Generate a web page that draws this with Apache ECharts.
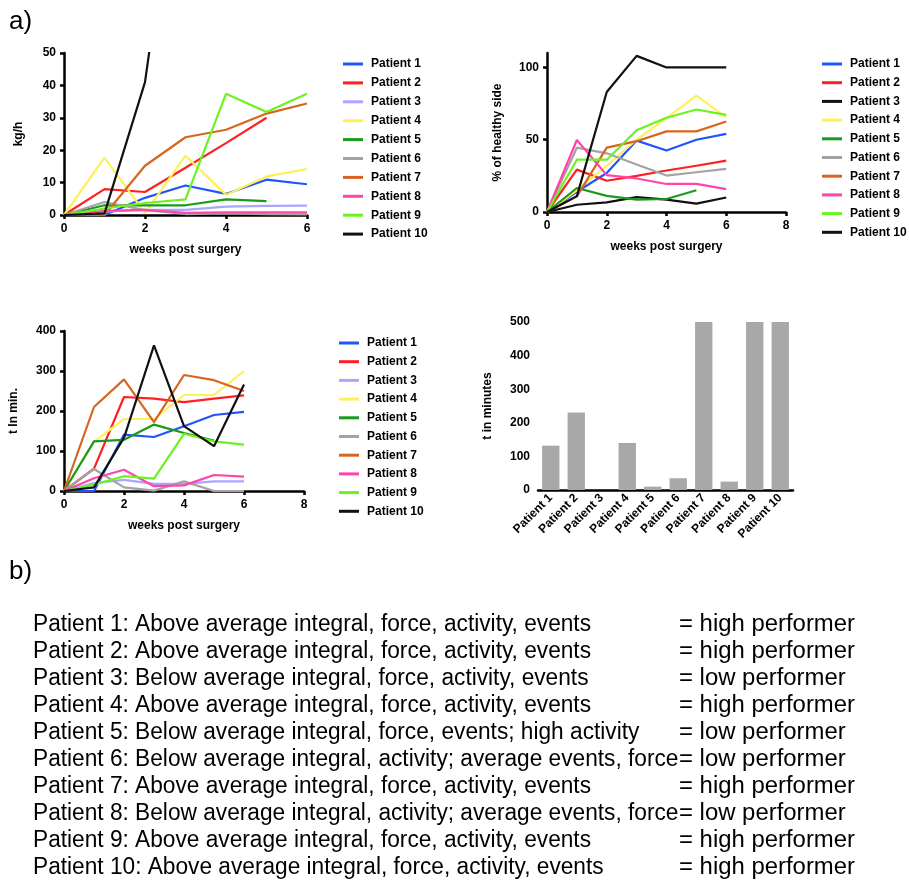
<!DOCTYPE html>
<html>
<head>
<meta charset="utf-8">
<title>Patients</title>
<script src="https://cdn.jsdelivr.net/npm/echarts@6/dist/echarts.min.js"></script>
<style>
  html, body { margin: 0; padding: 0; background: #fff; }
  #main { width: 909px; height: 885px; }
</style>
</head>
<body>
<div id="main"></div>
<script>
var weeks = [0, 1, 2, 3, 4, 5, 6];
var patients = ['Patient 1', 'Patient 2', 'Patient 3', 'Patient 4', 'Patient 5',
	'Patient 6', 'Patient 7', 'Patient 8', 'Patient 9', 'Patient 10'];
var colors = ['#1f55ff', '#ff1f1f', '#aaa6ff', '#fff05a', '#1a9a1a',
	'#a3a3a3', '#d6661f', '#ff45aa', '#6cf21f', '#111111'];
// in the "% of healthy side" plot patient 3 is drawn in black
var colorsHealthy = ['#1f55ff', '#ff1f1f', '#111111', '#fff05a', '#1a9a1a',
	'#a3a3a3', '#d6661f', '#ff45aa', '#6cf21f', '#111111'];

// kg/h per week
var kgh = [
	[0, 0, 5.3, 9.1, 6.5, 10.9, 9.5],
	[0, 8, 7.1, 14.6, 22.2, 30],
	[0, 1, 1.6, 1.6, 2.6, 2.8, 2.9],
	[0, 17.7, 0.6, 18.3, 6.2, 11.9, 14.2],
	[0, 3, 3, 3, 4.8, 4.3],
	[0, 4, 1.5, 0.3, 0.5, 0.3, 0.2],
	[0, 0, 15.2, 24, 26.3, 31.3, 34.4],
	[0, 1.3, 1.6, 0.7, 0.8, 0.8, 0.8],
	[0, 2, 3.7, 4.8, 37.4, 31.8, 37.4],
	[0, 0.5, 41, 130]
];
// % of healthy side per week
var healthy = [
	[0, 14, 27, 49.4, 42.5, 50, 54],
	[0, 29.3, 21.6, 25, 28.7, 32, 35.6],
	[0, 5, 6.7, 10.3, 8.5, 5.8, 10],
	[0, 15, 32, 50, 65, 80.5, 65.5],
	[0, 16.6, 11.2, 8.5, 9, 15],
	[0, 44.5, 40.6, 32.8, 25.2, 27.5, 29.8],
	[0, 10.8, 44.5, 49, 55.8, 55.8, 62.6],
	[0, 49.8, 25.5, 23.2, 19.4, 19.4, 15.8],
	[0, 36.2, 36.2, 56.5, 65.2, 70.9, 67.2],
	[0, 11, 83, 108, 100, 100, 100]
];
// t in min. per week
var tmin = [
	[0, 0, 141, 135, 162, 190, 198],
	[0, 56, 235, 231, 222, 231, 239],
	[0, 20, 28, 18, 18, 24, 24],
	[0, 123, 180, 180, 240, 240, 300],
	[0, 124, 128, 166, 145, 126],
	[0, 55, 9, 1, 24, 0, 0],
	[0, 210, 279, 172, 290, 277, 250],
	[0, 32, 53, 12, 14, 40, 36],
	[0, 16, 37, 31, 143, 124, 116],
	[0, 9, 133, 364, 162, 112, 266]
];
// t in minutes (bar chart)
var tminutes = [132, 231, 0, 140, 10, 35, 500, 25, 500, 500];

var descr = [
	'Patient 1: Above average integral, force, activity, events',
	'Patient 2: Above average integral, force, activity, events',
	'Patient 3: Below average integral, force, activity, events',
	'Patient 4: Above average integral, force, activity, events',
	'Patient 5: Below average integral, force, events; high activity',
	'Patient 6: Below average integral, activity; average events, force',
	'Patient 7: Above average integral, force, activity, events',
	'Patient 8: Below average integral, activity; average events, force',
	'Patient 9: Above average integral, force, activity, events',
	'Patient 10: Above average integral, force, activity, events'
];
var rating = ['= high performer', '= high performer', '= low performer', '= high performer',
	'= low performer', '= low performer', '= high performer', '= low performer',
	'= high performer', '= high performer'];

var FONT = '"Liberation Sans", Arial, sans-serif';
var labelStyle = { color: '#000', fontWeight: 'bold', fontSize: 12, fontFamily: FONT };
var axisLine = { lineStyle: { color: '#000', width: 2.5 } };
var axisTick = { length: 4, lineStyle: { color: '#000', width: 2.5 } };

function valueAxis(gi, max, interval, name, gap, extra) {
	var ax = {
		type: 'value', gridIndex: gi, min: 0, max: max, interval: interval,
		name: name, nameLocation: 'middle', nameGap: gap,
		nameTextStyle: { color: '#000', fontWeight: 'bold', fontSize: 12, fontFamily: FONT },
		axisLine: axisLine, axisTick: axisTick,
		axisLabel: labelStyle, splitLine: { show: false }
	};
	for (var k in extra) ax[k] = extra[k];
	return ax;
}

function lineSeries(values, cols, gi) {
	return values.map(function(v, i) {
		return {
			name: patients[i], type: 'line', xAxisIndex: gi, yAxisIndex: gi,
			symbol: 'none', clip: true,
			lineStyle: { width: 2.2, color: cols[i] },
			itemStyle: { color: cols[i] },
			data: v.map(function(y, k) { return [weeks[k], y]; })
		};
	});
}

function makeLegend(left, top, gap, cols) {
	return {
		orient: 'vertical', left: left, top: top, itemGap: gap,
		icon: 'rect', itemWidth: 20, itemHeight: 3, padding: 0,
		textStyle: { color: '#000', fontWeight: 'bold', fontSize: 12, fontFamily: FONT, lineHeight: 14, padding: [0, 0, 0, 3] },
		data: patients.map(function(p, i) {
			return { name: p, itemStyle: { color: cols[i] }, lineStyle: { color: cols[i], width: 3 } };
		})
	};
}

// the text of part b) is set in a narrow font: squeeze it horizontally
var ctx = document.createElement('canvas').getContext('2d');
ctx.font = '23px ' + FONT;
var sxLeft = 558 / ctx.measureText(descr[0]).width;
var sxRight = 176 / ctx.measureText(rating[0]).width;

var texts = [
	{ type: 'text', x: 9, y: 22, style: { text: 'a)', font: '26px ' + FONT, fill: '#000', textVerticalAlign: 'middle' } },
	{ type: 'text', x: 9, y: 572, style: { text: 'b)', font: '26px ' + FONT, fill: '#000', textVerticalAlign: 'middle' } }
];
descr.forEach(function(d, i) {
	texts.push({ type: 'text', x: 33, y: 625 + i * 27, scaleX: sxLeft,
		style: { text: d, font: '23px ' + FONT, fill: '#000', textVerticalAlign: 'middle' } });
	texts.push({ type: 'text', x: 679, y: 625 + i * 27, scaleX: sxRight,
		style: { text: rating[i], font: '23px ' + FONT, fill: '#000', textVerticalAlign: 'middle' } });
});

var myChart = echarts.init(document.getElementById('main'));
myChart.setOption({
	backgroundColor: '#fff',
	animation: false,
	grid: [
		{ left: 64, top: 53, width: 243, height: 162 },
		{ left: 547, top: 53, width: 239, height: 159 },
		{ left: 64, top: 331, width: 240, height: 160 },
		{ left: 538, top: 322, width: 255, height: 168 }
	],
	xAxis: [
		valueAxis(0, 6, 2, 'weeks post surgery', 29),
		valueAxis(1, 8, 2, 'weeks post surgery', 29),
		valueAxis(2, 8, 2, 'weeks post surgery', 29),
		{
			type: 'category', gridIndex: 3, data: patients,
			axisLine: axisLine,
			axisTick: { alignWithLabel: true, length: 4, lineStyle: { color: '#000', width: 2.5 } },
			axisLabel: { color: '#000', fontWeight: 'bold', fontSize: 12, fontFamily: FONT, rotate: 45, interval: 0, margin: 6 }
		}
	],
	yAxis: [
		valueAxis(0, 50, 10, 'kg/h', 39),
		valueAxis(1, 110, 50, '% of healthy side', 43, { axisLabel: { color: '#000', fontWeight: 'bold', fontSize: 12, fontFamily: FONT, showMaxLabel: false } }),
		valueAxis(2, 400, 100, 't In min.', 44),
		valueAxis(3, 500, 100, 't in minutes', 44)
	],
	legend: [
		makeLegend(343, 57, 4.9, colors),
		makeLegend(822, 57, 4.7, colorsHealthy),
		makeLegend(339, 336, 4.7, colors)
	],
	graphic: texts,
	series: lineSeries(kgh, colors, 0)
		.concat(lineSeries(healthy, colorsHealthy, 1))
		.concat(lineSeries(tmin, colors, 2))
		.concat([{
			name: 't in minutes', type: 'bar', xAxisIndex: 3, yAxisIndex: 3,
			barCategoryGap: '32%', itemStyle: { color: '#a8a8a8' },
			data: tminutes
		}])
});
</script>
</body>
</html>
